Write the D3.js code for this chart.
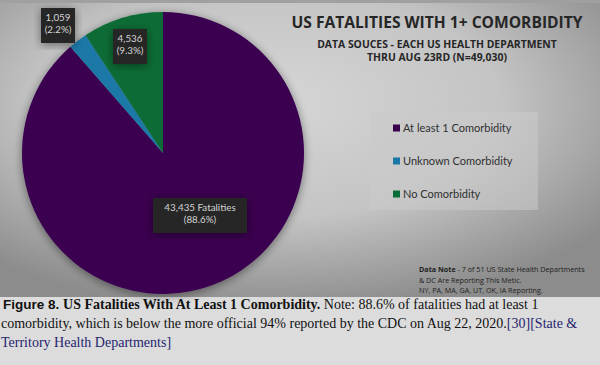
<!DOCTYPE html>
<html><head><meta charset="utf-8">
<script src="https://cdn.jsdelivr.net/npm/d3@7"></script>
<style>body{margin:0;background:#dedede;}svg{display:block;}</style>
</head><body>
<svg id="c" width="600" height="365"></svg>
<script>
const categories = ["At least 1 Comorbidity", "Unknown Comorbidity", "No Comorbidity"];
const values = [43435, 1059, 4536];
const percents = ["88.6%", "2.2%", "9.3%"];
const valueLabels = ["43,435 Fatalities", "1,059", "4,536"];
const colors = ["#3a0050", "#1a78a6", "#0a6c36"];
const titleLines = ["US FATALITIES WITH 1+ COMORBIDITY", "DATA SOUCES - EACH US HEALTH DEPARTMENT", "THRU AUG 23RD (N=49,030)"];
const noteLines = ["Data Note - 7 of 51 US State Health Departments", "& DC Are Reporting This Metic.", "NY, PA, MA, GA, UT, OK, IA Reporting."];

const svg = d3.select("#c");
const W = 600, PH = 297;
const defs = svg.append("defs");
const rg = defs.append("radialGradient").attr("id","bg").attr("cx","45%").attr("cy","35%").attr("r","70%");
rg.append("stop").attr("offset","0%").attr("stop-color","#d6d6d6");
rg.append("stop").attr("offset","55%").attr("stop-color","#c4c4c4");
rg.append("stop").attr("offset","100%").attr("stop-color","#8c8c8c");
const sh = defs.append("filter").attr("id","sh").attr("x","-20%").attr("y","-20%").attr("width","140%").attr("height","140%");
sh.append("feGaussianBlur").attr("in","SourceAlpha").attr("stdDeviation",5).attr("result","b");
sh.append("feOffset").attr("in","b").attr("dx",0).attr("dy",2).attr("result","o");
sh.append("feComponentTransfer").attr("in","o").attr("result","o2").append("feFuncA").attr("type","linear").attr("slope",0.45);
const m = sh.append("feMerge"); m.append("feMergeNode").attr("in","o2"); m.append("feMergeNode").attr("in","SourceGraphic");

svg.append("rect").attr("x",0).attr("y",0).attr("width",W).attr("height",365).attr("fill","#dcdcdc");
svg.append("rect").attr("x",0).attr("y",0).attr("width",W).attr("height",PH).attr("fill","url(#bg)");
svg.append("rect").attr("x",0).attr("y",0).attr("width",W).attr("height",3).attr("fill","#a0a0a0");

// pie
const cx = 163, cy = 153, R = 141;
const pie = d3.pie().sort(null).value(d => d)(values);
const arc = d3.arc().innerRadius(0).outerRadius(R);
const g = svg.append("g").attr("transform",`translate(${cx},${cy})`);
g.append("g").attr("filter","url(#sh)").selectAll("path").data(pie).join("path")
  .attr("d", arc).attr("fill", (d,i) => colors[i]);

// data labels
const labelPos = [[200,215],[58,25],[130,46]];
const lab = svg.append("g");
pie.forEach((d,i) => {
  const [lx, ly] = labelPos[i];
  const lines = [valueLabels[i], "(" + percents[i] + ")"];
  const tg = lab.append("g").attr("transform",`translate(${lx},${ly})`);
  const bw = i === 0 ? 94 : 34;
  tg.append("rect").attr("x",-bw/2).attr("y",-17).attr("width",bw).attr("height",35)
    .attr("fill","#262626").attr("filter","url(#sh)");
  lines.forEach((t,k) => tg.append("text").attr("x",0).attr("y",-4 + k*12).attr("text-anchor","middle")
    .attr("font-family","Lato, 'Open Sans', sans-serif").attr("font-size",9.8).attr("fill","#d4d4d4").text(t));
});

// title
const tt = svg.append("g").attr("font-family","'Open Sans', Lato, sans-serif").attr("fill","#262626").attr("text-anchor","middle");
tt.append("text").attr("x",437).attr("y",28).attr("font-size",15.6).attr("font-weight","bold").text(titleLines[0]);
tt.append("text").attr("x",437).attr("y",48).attr("font-size",10.4).attr("font-weight","bold").text(titleLines[1]);
tt.append("text").attr("x",437).attr("y",61).attr("font-size",10.4).attr("font-weight","bold").text(titleLines[2]);

// legend
svg.append("rect").attr("x",370).attr("y",112).attr("width",168).attr("height",98).attr("fill","#cacaca").attr("opacity",0.55);
const lg = svg.append("g");
categories.forEach((c,i) => {
  const y = 128 + i*33;
  lg.append("rect").attr("x",393).attr("y",y-3.5).attr("width",7).attr("height",7).attr("fill",colors[i]);
  lg.append("text").attr("x",403).attr("y",y+4).attr("font-family","Lato, 'Open Sans', sans-serif").attr("font-size",11).attr("fill","#303030").text(c);
});

// data note
const nt = svg.append("g").attr("font-family","'Open Sans', Lato, sans-serif").attr("font-size",7.2).attr("fill","#1e1e1e");
noteLines.forEach((t,i) => {
  const tx = nt.append("text").attr("x",419).attr("y",272 + i*10.5);
  if (i === 0) {
    tx.append("tspan").attr("font-weight","bold").text("Data Note");
    tx.append("tspan").text(t.replace("Data Note",""));
  } else tx.text(t);
});

// caption
const cap = svg.append("g").attr("font-family","'Liberation Serif', 'Times New Roman', serif").attr("font-size",14).attr("fill","#111");
const l1 = cap.append("text").attr("x",3).attr("y",309);
l1.append("tspan").attr("font-family","'Liberation Sans', Arial, sans-serif").attr("font-weight","bold").attr("font-size",13.5).text("Figure 8. ");
l1.append("tspan").attr("font-weight","bold").text("US Fatalities With At Least 1 Comorbidity.");
l1.append("tspan").text(" Note: 88.6% of fatalities had at least 1");
const l2 = cap.append("text").attr("x",1).attr("y",328);
l2.append("tspan").text("comorbidity, which is below the more official 94% reported by the CDC on Aug 22, 2020.");
l2.append("tspan").attr("fill","#25256e").text("[30][State &");
cap.append("text").attr("x",1).attr("y",347).attr("fill","#25256e").text("Territory Health Departments]");
</script>
</body></html>
